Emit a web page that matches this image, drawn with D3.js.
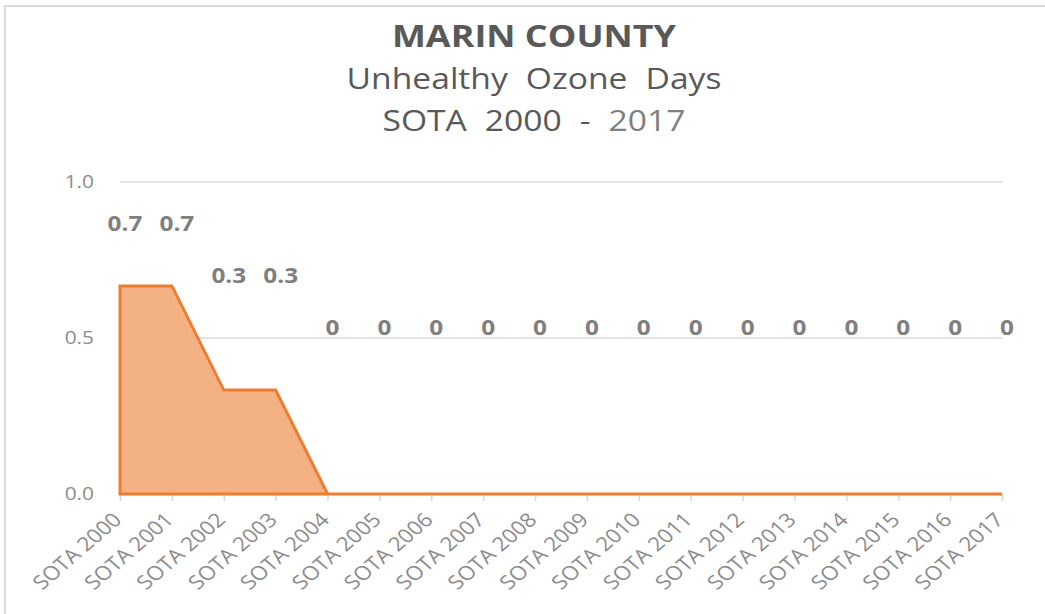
<!DOCTYPE html>
<html>
<head>
<meta charset="utf-8">
<script src="https://cdn.jsdelivr.net/npm/d3@7"></script>
<style>
    body { margin: 0; background: #fff; }
    svg { display: block; font-family: "Open Sans", "Noto Sans", sans-serif; }
</style>
</head>
<body>
<div id="chart"></div>
<script>
(() => {
    let categories = ["SOTA 2000", "SOTA 2001", "SOTA 2002", "SOTA 2003", "SOTA 2004", "SOTA 2005",
        "SOTA 2006", "SOTA 2007", "SOTA 2008", "SOTA 2009", "SOTA 2010", "SOTA 2011",
        "SOTA 2012", "SOTA 2013", "SOTA 2014", "SOTA 2015", "SOTA 2016", "SOTA 2017"];
    let values = [0.667, 0.667, 0.333, 0.333, 0, 0, 0, 0, 0, 0, 0, 0, 0, 0, 0, 0, 0, 0];
    let labels = ["0.7", "0.7", "0.3", "0.3", "0", "0", "0", "0", "0", "0", "0", "0", "0", "0", "0", "0", "0", "0"];
    let yTicks = [0, 0.5, 1.0];

    let w = 1045;
    let h = 614;
    let sx = 1.16; // the picture is a bit wider than tall
    let svg = d3.select("#chart")
        .append("svg")
        .attr("width", w)
        .attr("height", h);

    // outer frame, right and bottom edges fall off the page
    svg.append("rect")
        .attr("x", 5).attr("y", 6)
        .attr("width", w + 10).attr("height", h + 10)
        .attr("fill", "none")
        .attr("stroke", "#d9d9d9")
        .attr("stroke-width", 2);

    let x = d3.scalePoint()
        .domain(categories)
        .range([120, 1002]);

    let y = d3.scaleLinear()
        .domain([0, 1])
        .range([494, 182]);

    // gridlines
    svg.selectAll(".grid")
        .data(yTicks.filter(d => d > 0))
        .enter()
        .append("line")
        .attr("x1", 120).attr("x2", 1002)
        .attr("y1", d => y(d)).attr("y2", d => y(d))
        .attr("stroke", "#d9d9d9")
        .attr("stroke-width", 1.3);

    // y labels
    svg.selectAll(".ylab")
        .data(yTicks)
        .enter()
        .append("text")
        .attr("transform", d => "translate(94," + (y(d) + 6) + ") scale(" + sx + ",1)")
        .attr("text-anchor", "end")
        .attr("fill", "#8c8c8c")
        .attr("font-size", 18)
        .text(d => d.toFixed(1));

    // x axis
    let x_axis = d3.axisBottom(x).tickSize(7).tickFormat("");
    let gx = svg.append("g")
        .attr("transform", "translate(0," + y(0) + ")")
        .call(x_axis);
    gx.select(".domain").attr("stroke", "#d9d9d9").attr("stroke-width", 1.5);
    gx.selectAll(".tick line").attr("stroke", "#d9d9d9").attr("stroke-width", 1.5);

    svg.selectAll(".xlab")
        .data(categories)
        .enter()
        .append("text")
        .attr("transform", d => "translate(" + (x(d) + 3) + "," + (y(0) + 27) + ") scale(" + sx + ",1) rotate(-45)")
        .attr("text-anchor", "end")
        .attr("fill", "#8c8c8c")
        .attr("font-size", 19.5)
        .text(d => d);

    // area
    let area = d3.area()
        .x((d, i) => x(categories[i]))
        .y0(y(0))
        .y1(d => y(d));

    svg.append("path")
        .datum(values)
        .attr("d", area)
        .attr("fill", "#f4b183");

    svg.append("path")
        .datum(values)
        .attr("d", area)
        .attr("fill", "none")
        .attr("stroke", "#ed7d31")
        .attr("stroke-width", 3)
        .attr("stroke-linejoin", "miter");

    // data labels
    svg.selectAll(".dlab")
        .data(values)
        .enter()
        .append("text")
        .attr("transform", (d, i) => "translate(" + (x(categories[i]) + 5) + "," + (y(0.535 + d / 2) + 8) + ") scale(" + sx + ",1)")
        .attr("text-anchor", "middle")
        .attr("fill", "#7f7f7f")
        .attr("font-size", 21)
        .attr("font-weight", "bold")
        .text((d, i) => labels[i]);

    // titles
    let title = svg.append("g").attr("fill", "#595959").attr("text-anchor", "middle");
    title.append("text")
        .attr("transform", "translate(534,47) scale(" + sx + ",1)")
        .attr("font-size", 31).attr("font-weight", "bold")
        .text("MARIN COUNTY");
    title.append("text")
        .attr("transform", "translate(534,89) scale(" + sx + ",1)")
        .attr("font-size", 29).attr("word-spacing", 8)
        .text("Unhealthy Ozone Days");
    let t3 = title.append("text")
        .attr("transform", "translate(534,131) scale(" + sx + ",1)")
        .attr("font-size", 29).attr("word-spacing", 8);
    t3.append("tspan").text("SOTA 2000 - ");
    t3.append("tspan").attr("fill", "#7f7f7f").text("2017");
})();
</script>
</body>
</html>
